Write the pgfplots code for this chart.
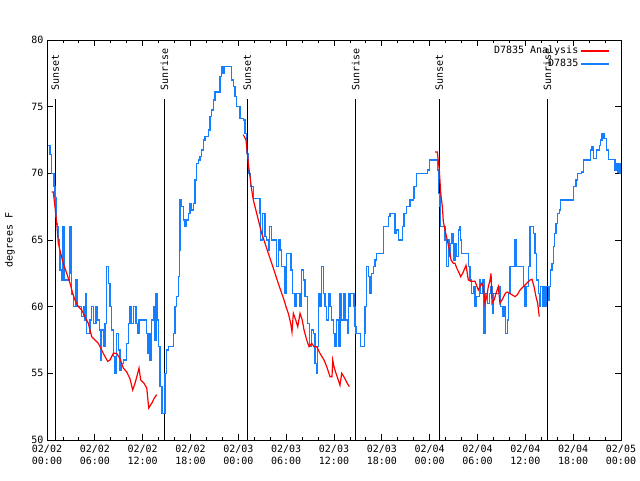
\documentclass[border=0pt]{standalone}
\usepackage{pgfplots}
\pgfplotsset{compat=1.18}
\usepackage{fontspec}
\setmainfont{DejaVu Sans Mono}
\definecolor{obsblue}{RGB}{20,128,255}
\definecolor{anared}{RGB}{255,0,0}
\begin{document}
\begin{tikzpicture}[font=\fontsize{10pt}{12pt}\selectfont]
\path[use as bounding box] (-47pt,-40pt) rectangle (593pt,440pt);
\begin{axis}[
  at={(0,0)}, anchor=south west,
  scale only axis, width=574pt, height=400pt,
  xmin=0, xmax=72, ymin=50, ymax=80,
  xtick={0,6,...,72},
  xticklabels={{02/02\\00:00},{02/02\\06:00},{02/02\\12:00},{02/02\\18:00},{02/03\\00:00},{02/03\\06:00},{02/03\\12:00},{02/03\\18:00},{02/04\\00:00},{02/04\\06:00},{02/04\\12:00},{02/04\\18:00},{02/05\\00:00}},
  xticklabel style={align=center, yshift=-2pt},
  minor x tick num=2,
  ytick={50,55,...,80},
  tick align=inside,
  major tick length=6pt, minor tick length=3pt,
  tick style={black, line width=0.8pt},
  axis line style={line width=0.8pt},
  /pgf/number format/assume math mode=true,
  ylabel={degrees F},
  ylabel style={at={(axis description cs:-0.0645,0.5)}, anchor=center},
  legend style={draw=none, fill=none, at={(1,1)}, anchor=north east, xshift=-10pt, yshift=-3pt,
     row sep=0pt, inner sep=1pt, legend cell align=right},
  legend plot pos=right,
  legend image code/.code={\draw[#1] (0pt,0pt) -- (28pt,0pt);},
]
\addlegendimage{draw=anared, line width=1.5pt}
\addlegendentry{D7835 Analysis}
\addlegendimage{draw=obsblue, line width=1.5pt}
\addlegendentry{D7835}

% sunset / sunrise lines
\addplot[black, line width=0.9pt, forget plot] coordinates {(1.04,50) (1.04,75.6)};
\addplot[black, line width=0.9pt, forget plot] coordinates {(14.72,50) (14.72,75.6)};
\addplot[black, line width=0.9pt, forget plot] coordinates {(25.13,50) (25.13,75.6)};
\addplot[black, line width=0.9pt, forget plot] coordinates {(38.72,50) (38.72,75.6)};
\addplot[black, line width=0.9pt, forget plot] coordinates {(49.21,50) (49.21,75.6)};
\addplot[black, line width=0.9pt, forget plot] coordinates {(62.76,50) (62.76,75.6)};
\node[rotate=90, anchor=west, inner sep=0pt, xshift=1.5pt] at (axis cs:1.04,76.1) {Sunset};
\node[rotate=90, anchor=west, inner sep=0pt, xshift=1.5pt] at (axis cs:14.72,76.1) {Sunrise};
\node[rotate=90, anchor=west, inner sep=0pt, xshift=1.5pt] at (axis cs:25.13,76.1) {Sunset};
\node[rotate=90, anchor=west, inner sep=0pt, xshift=1.5pt] at (axis cs:38.72,76.1) {Sunrise};
\node[rotate=90, anchor=west, inner sep=0pt, xshift=1.5pt] at (axis cs:49.21,76.1) {Sunset};
\node[rotate=90, anchor=west, inner sep=0pt, xshift=1.5pt] at (axis cs:62.76,76.1) {Sunrise};

% observed
\addplot[obsblue, line width=1.4pt, const plot, forget plot] coordinates {
(0.10,72.1)(0.38,71.4)(0.59,70.0)(0.90,69.0)(1.00,68.2)(1.13,66.75)(1.22,66.25)(1.29,66)(1.42,65)(1.59,64)(1.63,62.75)(1.84,62)(1.97,66)(2.13,62)(2.67,62)(2.80,66)(3.01,62.5)(3.10,60.9)(3.30,60)(3.64,60)(3.65,62)(3.80,62)(3.82,60)(4.14,60)(4.35,59.25)(4.55,60)(4.77,59)(4.89,61)(4.98,58)(5.39,59)(5.61,60)(5.81,58.75)(6.15,60)(6.31,59)(6.56,58.25)(6.77,56)(6.86,58.25)(7.15,57)(7.28,58.75)(7.49,63)(7.69,61.75)(7.90,60)(8.12,58.25)(8.32,56.25)(8.53,55)(8.74,58)(8.94,56.75)(9.16,55.25)(9.37,55.75)(9.57,56)(9.78,56)(10.00,57.25)(10.20,58.75)(10.41,60)(10.62,58.75)(10.83,60)(11.16,58.75)(11.33,58)(11.54,59)(12.42,59)(12.51,58)(12.58,56.5)(12.76,58)(12.92,56)(13.13,59)(13.33,60)(13.46,57.5)(13.67,61)(13.89,59)(13.96,57)(14.17,54)(14.43,52)(14.68,52)(14.80,55)(15.02,56.75)(15.22,57)(15.64,57)(15.84,58)(16.06,60)(16.27,60.75)(16.47,62.25)(16.60,64.25)(16.68,68)(16.90,67.5)(17.10,66.5)(17.31,66)(17.52,66.5)(17.72,67)(17.94,67.75)(18.15,67.25)(18.35,67.75)(18.57,69.5)(18.78,70.75)(18.98,71)(19.19,71.25)(19.41,71.75)(19.61,72.5)(19.82,72.75)(20.23,73.25)(20.45,74.25)(20.66,74.75)(20.86,75.5)(21.07,76.1)(21.49,76.1)(21.70,77.25)(21.91,78)(22.04,77.5)(22.20,78)(22.96,78)(23.17,77)(23.37,76.5)(23.58,75.75)(23.80,75)(24.21,74.1)(24.62,74)(24.84,73)(25.05,71.5)(25.25,70)(25.55,69)(25.88,68.1)(26.51,68.1)(26.72,67)(26.80,65)(27.01,67)(27.22,67)(27.35,65.25)(27.56,65)(27.76,64.25)(27.88,66)(28.19,65)(28.60,65)(28.81,63)(29.01,65)(29.23,64.25)(29.44,63)(29.73,63)(29.85,61)(29.98,62.75)(30.07,64)(30.36,64)(30.61,62.75)(30.77,61)(30.98,61)(31.11,60)(31.32,61)(31.52,61)(31.74,60)(31.95,62.75)(32.15,62)(32.36,60.75)(32.65,58.75)(32.90,57)(33.20,58.25)(33.40,58)(33.62,55.75)(33.83,55)(33.90,57)(34.03,61)(34.24,60)(34.46,63)(34.66,61)(34.87,60)(35.09,59)(35.29,61)(35.50,60)(35.72,59)(35.91,58)(36.13,57)(36.34,59)(36.54,57)(36.75,61)(36.97,59)(37.17,61)(37.38,59)(37.67,58)(37.79,61)(37.92,60)(38.10,61)(38.30,61)(38.51,60)(38.63,58.5)(38.76,58)(39.05,58)(39.35,57)(39.68,57)(39.80,58)(39.89,60)(40.10,63)(40.30,62.25)(40.52,61)(40.73,62.5)(40.93,63)(41.14,63.5)(41.36,64)(41.98,64)(42.19,66)(42.61,66)(42.81,66.75)(43.03,67)(43.44,67)(43.65,65.5)(43.87,65.75)(44.07,65)(44.37,65)(44.57,66)(44.78,67)(45.12,67.5)(45.53,68)(45.95,68.1)(46.04,69)(46.25,69)(46.38,70)(47.00,70)(47.20,70)(47.70,70.25)(47.95,71)(48.80,71)(48.96,70.25)(49.09,68.5)(49.30,67.5)(49.39,66)(49.71,66)(49.92,65)(50.14,63)(50.34,65)(50.46,63.75)(50.64,64.75)(50.80,65.5)(50.97,63.5)(51.18,64.75)(51.39,63.75)(51.59,65.75)(51.72,66)(51.89,65)(52.02,64)(52.65,64)(52.85,63)(53.06,62)(53.28,61)(53.47,61.5)(53.69,60)(53.90,60.75)(54.23,62)(54.40,61)(54.65,62)(54.82,58)(54.98,61)(55.23,60.25)(55.48,61)(55.70,61.5)(55.86,59.5)(55.98,61)(56.61,61)(56.74,61.5)(56.91,60)(57.11,59.25)(57.33,60)(57.54,58)(57.74,59)(57.91,61)(58.08,63)(58.49,63)(58.71,65)(58.84,63)(59.55,63)(59.75,61.5)(59.96,60)(60.18,61.5)(60.37,63)(60.59,66)(60.80,66)(61.00,65.5)(61.21,64)(61.42,62)(61.63,61)(61.75,60)(61.93,61.5)(62.18,60)(62.34,61.5)(62.51,60)(62.68,61.5)(62.88,60.5)(63.01,61.5)(63.18,62.75)(63.35,63.25)(63.51,64.5)(63.69,65.5)(63.85,66.25)(64.01,67)(64.26,67.25)(64.44,68)(65.82,68)(66.02,69)(66.36,69.5)(66.52,70)(67.07,70.1)(67.27,71)(68.02,71)(68.20,71.75)(68.36,72)(68.53,71.1)(68.78,71.1)(68.95,71.75)(69.28,72.1)(69.46,72.5)(69.62,73)(69.87,72.6)(70.21,71.75)(70.41,71.05)(71.04,71.05)(71.25,70.25)(71.38,70.75)(71.54,70.1)(71.67,70.75)(71.88,70)(72.0,70)
};

% analysis
\addplot[anared, line width=1.2pt, forget plot] coordinates {
(0.59,68.6)(0.79,68.6)(1.00,67.5)(1.22,66.25)(1.42,64.75)(1.72,64)(2.04,63.25)(2.47,62.5)(2.89,61.75)(3.22,61)(3.51,60.5)(3.93,60)(4.35,59.75)(4.77,59.25)(5.18,58.75)(5.61,57.75)(6.02,57.5)(6.44,57.25)(6.86,56.75)(7.28,56.25)(7.61,55.9)(7.90,56)(8.32,56.5)(8.74,56.5)(9.16,56.1)(9.57,55.4)(10.00,55.1)(10.41,54.6)(10.75,53.75)(11.04,54.25)(11.33,54.9)(11.54,55.4)(11.75,54.5)(12.17,54.25)(12.51,53.9)(12.76,52.4)(13.13,52.75)(13.42,53.1)(13.76,53.4)
};
\addplot[anared, line width=1.2pt, forget plot] coordinates {
(24.62,72.9)(24.96,72.5)(25.13,71.5)(25.25,70.75)(25.46,69.75)(25.68,68.75)(25.88,68)(26.09,67.5)(26.51,66.5)(26.93,65.5)(27.35,64.75)(27.76,64)(28.19,63.25)(28.60,62.5)(29.01,61.75)(29.44,61)(29.73,60.5)(29.98,60)(30.27,59.5)(30.57,58.75)(30.73,58.1)(30.90,59.5)(31.20,59)(31.45,58.5)(31.74,59.5)(32.02,59)(32.24,58.25)(32.58,57.5)(32.87,57)(33.20,57.25)(33.49,57)(33.83,57)(34.24,56.5)(34.75,56)(35.09,55.5)(35.50,54.75)(35.75,54.75)(35.84,56)(36.00,55.5)(36.25,55)(36.54,54.5)(36.75,54.1)(36.97,55)(37.38,54.6)(37.67,54.25)(37.92,54)
};
\addplot[anared, line width=1.2pt, forget plot] coordinates {
(48.67,71.6)(48.96,71.6)(49.21,70.25)(49.39,68.5)(49.59,67.5)(49.71,66.4)(49.92,65.75)(50.21,65)(50.46,64.25)(50.68,63.5)(50.97,63.25)(51.18,63.25)(51.39,62.9)(51.72,62.5)(51.89,62.25)(52.14,62.5)(52.56,63.1)(52.85,62)(53.15,61.9)(53.69,61.9)(54.10,61.25)(54.53,61.75)(54.73,61.5)(54.94,60.25)(55.15,60.75)(55.36,61.5)(55.57,62)(55.70,62.5)(55.82,60.25)(56.08,60.5)(56.33,61)(56.61,61.5)(56.82,60.25)(57.16,60.6)(57.49,61)(57.74,61.1)(58.29,60.9)(58.71,60.75)(59.00,60.9)(59.34,61.25)(59.75,61.5)(60.18,61.75)(60.59,62)(60.84,62.05)(61.09,61.5)(61.34,60.75)(61.55,60.25)(61.75,59.25)
};

\node at (rel axis cs:0.5,1) [yshift=21pt] {Temperature for D7835 on 2025-Feb-02 (time in UTC)};
\end{axis}
\end{tikzpicture}
\end{document}
